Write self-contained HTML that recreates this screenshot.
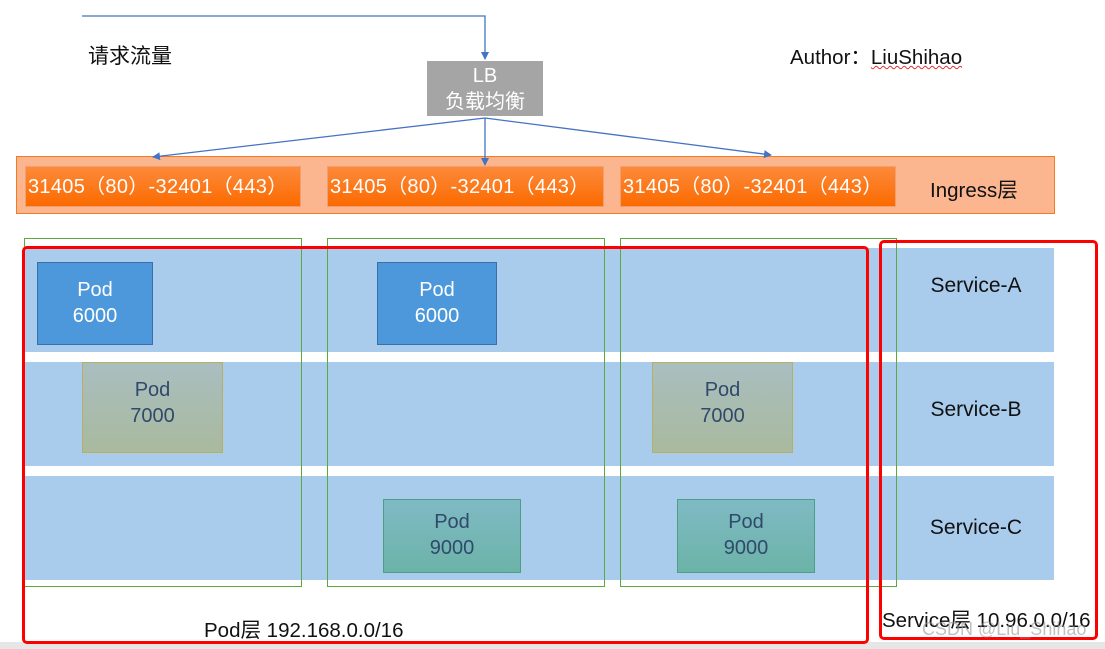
<!DOCTYPE html>
<html><head><meta charset="utf-8"><style>
body{margin:0;width:1105px;height:649px;position:relative;background:#fff;overflow:hidden;font-family:"Liberation Sans","Noto Sans CJK SC",sans-serif}
div{position:absolute;box-sizing:border-box}
.band{left:25px;width:1029px;height:104px;background:#a9cbec}
.pod{text-align:center;font-size:20px;line-height:26px;padding-top:14px}
.pa{background:#4d98da;border:1px solid #3a6fa8;color:#fff}
.pb{background:linear-gradient(#a9bec0,#a9ba9e);border:1px solid #b8b060;color:#2f4a6a}
.pc{background:linear-gradient(#7fbac4,#6cb3a8);border:1px solid #4aa080;color:#2f4a6a}
.ob{top:166px;height:41px;background:linear-gradient(#fd8a3a,#fb6a00);border:1px solid #f0a070;color:#fff;font-size:20px;line-height:41px;padding-left:2px;white-space:nowrap;letter-spacing:0.3px}
.g{top:238px;height:349px;border:1px solid #5aaa40}
.svc{left:876px;width:200px;text-align:center;font-size:21px;color:#111}
</style></head><body>
<div style="left:0;top:642px;width:1105px;height:7px;background:#e6e6e6"></div>
<div style="left:88px;top:40px;font-size:21px;color:#111">请求流量</div>
<div style="left:790px;top:40px;font-size:20.5px;color:#111">Author：<span style="text-decoration:underline wavy #d33;text-decoration-thickness:1px">LiuShihao</span></div>
<div style="left:427px;top:61px;width:116px;height:55px;background:#a5a5a5;color:#fff;text-align:center;font-size:20px;line-height:26px;padding-top:2px">LB<br>负载均衡</div>
<div style="left:16px;top:156px;width:1039px;height:58px;background:#fbb690;border:1px solid #f57b20"></div>
<div class="ob" style="left:25px;width:276px">31405（80）-32401（443）</div>
<div class="ob" style="left:327px;width:277px">31405（80）-32401（443）</div>
<div class="ob" style="left:620px;width:276px">31405（80）-32401（443）</div>
<div style="left:930px;top:173px;font-size:20.5px;color:#111">Ingress层</div>
<div class="band" style="top:248px"></div>
<div class="band" style="top:362px"></div>
<div class="band" style="top:476px"></div>
<div class="g" style="left:24px;width:278px"></div>
<div class="g" style="left:327px;width:278px"></div>
<div class="g" style="left:620px;width:277px"></div>
<div class="pod pa" style="left:37px;top:262px;width:116px;height:83px">Pod<br>6000</div>
<div class="pod pa" style="left:377px;top:262px;width:120px;height:83px">Pod<br>6000</div>
<div class="pod pb" style="left:82px;top:362px;width:141px;height:91px">Pod<br>7000</div>
<div class="pod pb" style="left:652px;top:362px;width:141px;height:91px">Pod<br>7000</div>
<div class="pod pc" style="left:383px;top:499px;width:138px;height:74px;padding-top:9px">Pod<br>9000</div>
<div class="pod pc" style="left:677px;top:499px;width:138px;height:74px;padding-top:9px">Pod<br>9000</div>
<div class="svc" style="top:274px">Service-A</div>
<div class="svc" style="top:398px">Service-B</div>
<div class="svc" style="top:516px">Service-C</div>
<div style="left:22px;top:246px;width:847px;height:398px;border:3px solid #f00;border-radius:5px"></div>
<div style="left:879px;top:240px;width:219px;height:400px;border:3px solid #f00;border-radius:5px"></div>
<div style="left:204px;top:613px;font-size:20.5px;color:#111">Pod层 192.168.0.0/16</div>
<div style="left:882px;top:603px;font-size:20.5px;color:#111;white-space:nowrap">Service层 10.96.0.0/16</div>
<div style="left:922px;top:619px;font-size:18px;color:rgba(150,150,150,.6);white-space:nowrap">CSDN @Liu_Shihao</div>
<svg style="position:absolute;left:0;top:0" width="1105" height="649">
<defs><marker id="a" markerWidth="8" markerHeight="8" refX="7" refY="4" orient="auto" markerUnits="userSpaceOnUse"><path d="M0,0L8,4L0,8z" fill="#4472c4"/></marker></defs>
<g stroke="#4472c4" stroke-width="1.3" fill="none">
<path d="M82,16H485V59" marker-end="url(#a)"/>
<path d="M485,118V165" marker-end="url(#a)"/>
<path d="M485,118L153,157" marker-end="url(#a)"/>
<path d="M485,118L771,155" marker-end="url(#a)"/>
</g></svg>
</body></html>
